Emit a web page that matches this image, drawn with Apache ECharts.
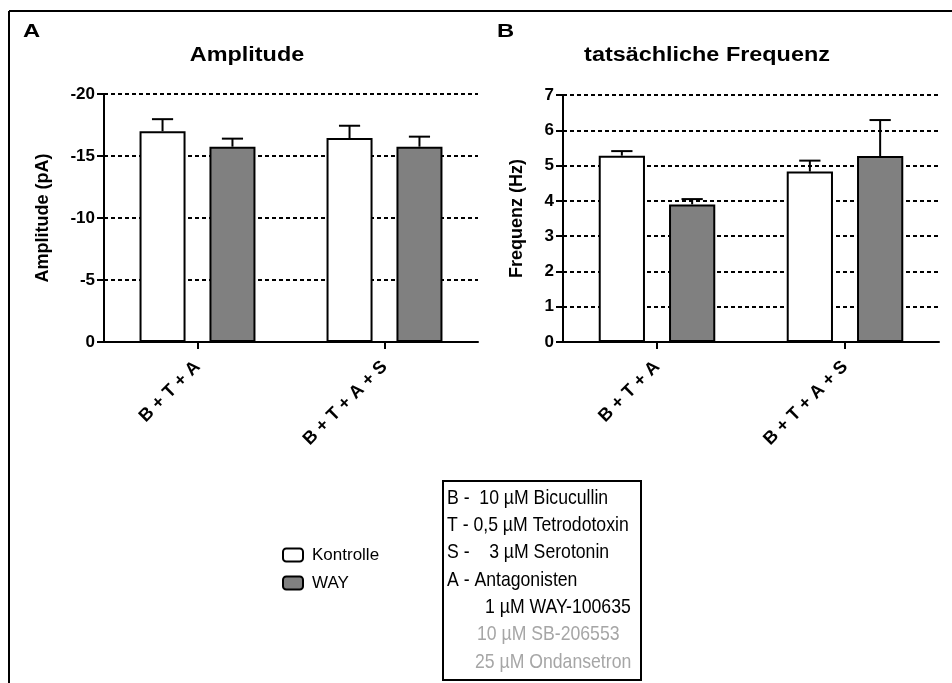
<!DOCTYPE html>
<html>
<head>
<meta charset="utf-8">
<script src="https://cdn.jsdelivr.net/npm/echarts@6/dist/echarts.min.js"></script>
<style>
html,body{margin:0;padding:0;background:#fff;}
#chart{width:952px;height:683px;}
</style>
</head>
<body>
<div id="chart"></div>
<script>
// ---- data ----
const categories = ['B + T + A', 'B + T + A + S'];
const seriesNames = ['Kontrolle', 'WAY'];

const ampKontrolle = [-17.0, -16.45];
const ampKontrolleSem = [0.97, 0.99];
const ampWay = [-15.75, -15.75];
const ampWaySem = [0.65, 0.81];

const freqKontrolle = [5.28, 4.83];
const freqKontrolleSem = [0.13, 0.31];
const freqWay = [3.9, 5.27];
const freqWaySem = [0.15, 1.02];

const ampAxis = { min: -20, max: 0, interval: 5 };
const freqAxis = { min: 0, max: 7, interval: 1 };

const panelTitles = ['Amplitude', 'tatsächliche Frequenz'];
const panelLetters = ['A', 'B'];
const axisNames = ['Amplitude (pA)', 'Frequenz (Hz)'];

const boxLines = [
  'B -  10 µM Bicucullin',
  'T - 0,5 µM Tetrodotoxin',
  'S -    3 µM Serotonin',
  'A - Antagonisten',
  '1 µM WAY-100635',
  '10 µM SB-206553',
  '25 µM Ondansetron'
];

// ---- styling / layout ----
const FONT = '"Liberation Sans", Arial, sans-serif';
const BAR_FRAC = 0.246;
const GAP_FRAC = 0.52;
const colors = ['#ffffff', '#808080'];

const chart = echarts.init(document.getElementById('chart'), null, { renderer: 'canvas' });

function errItems(means, sems, si) {
  return means.map((m, i) => [i, m, sems[i], si]);
}

function renderErr(params, api) {
  const ci = api.value(0), mean = api.value(1), sem = api.value(2), si = api.value(3);
  const band = api.size([1, 0])[0];
  const barW = band * BAR_FRAC;
  const gap = barW * GAP_FRAC;
  const off = (si === 0 ? -1 : 1) * (barW + gap) / 2;
  const top = api.coord([ci, mean]);
  const cap = api.coord([ci, mean + Math.sign(mean) * sem]);
  const x = top[0] + off;
  const half = barW * 0.23;
  return {
    type: 'group',
    children: [
      { type: 'line', shape: { x1: x, y1: top[1], x2: x, y2: cap[1] }, style: { stroke: '#000', lineWidth: 2 } },
      { type: 'line', shape: { x1: x - half, y1: cap[1], x2: x + half, y2: cap[1] }, style: { stroke: '#000', lineWidth: 2 } }
    ]
  };
}

function xAxisCfg(gi) {
  return {
    type: 'category', gridIndex: gi, data: categories, boundaryGap: true,
    axisLine: { show: true, lineStyle: { color: '#000', width: 2 } },
    axisTick: { show: true, alignWithLabel: true, length: 7, lineStyle: { color: '#000', width: 2 } },
    axisLabel: { rotate: 45, color: '#000', fontWeight: 'bold', fontSize: 18, fontFamily: FONT, margin: 22 },
    splitLine: { show: false }
  };
}

function yAxisCfg(gi, ax, name, gapN, inverse) {
  return {
    type: 'value', gridIndex: gi, min: ax.min, max: ax.max, interval: ax.interval, inverse: inverse,
    name: name, nameLocation: 'middle', nameGap: gapN,
    nameTextStyle: { color: '#000', fontWeight: 'bold', fontSize: 18, fontFamily: FONT },
    axisLine: { show: true, lineStyle: { color: '#000', width: 2 } },
    axisTick: { show: true, length: 7, lineStyle: { color: '#000', width: 2 } },
    axisLabel: { color: '#000', fontWeight: 'bold', fontSize: 17, fontFamily: FONT, margin: 9 },
    splitLine: { show: true, lineStyle: { color: '#000', width: 2, type: [4, 3] } }
  };
}

function barSeries(name, data, gi, ci) {
  return {
    type: 'bar', name: name, xAxisIndex: gi, yAxisIndex: gi, data: data,
    barWidth: (BAR_FRAC * 100) + '%', barGap: (GAP_FRAC * 100) + '%',
    itemStyle: { color: colors[ci], borderColor: '#000', borderWidth: 2 },
    emphasis: { disabled: true }, z: 2
  };
}

function errSeries(means, sems, si, gi) {
  return {
    type: 'custom', xAxisIndex: gi, yAxisIndex: gi, renderItem: renderErr,
    data: errItems(means, sems, si), z: 3, silent: true
  };
}

const graphics = [
  { type: 'line', shape: { x1: 9, y1: 11, x2: 952, y2: 11 }, style: { stroke: '#000', lineWidth: 2 } },
  { type: 'line', shape: { x1: 9, y1: 11, x2: 9, y2: 683 }, style: { stroke: '#000', lineWidth: 2 } },
  { type: 'text', x: 23, y: 32, scaleX: 1.25, style: { text: panelLetters[0], fontSize: 19, fontWeight: 'bold', fontFamily: FONT, fill: '#000', align: 'left', verticalAlign: 'middle' } },
  { type: 'text', x: 497, y: 32, scaleX: 1.25, style: { text: panelLetters[1], fontSize: 19, fontWeight: 'bold', fontFamily: FONT, fill: '#000', align: 'left', verticalAlign: 'middle' } },
  { type: 'text', x: 247, y: 56, scaleX: 1.2, style: { text: panelTitles[0], fontSize: 19.5, fontWeight: 'bold', fontFamily: FONT, fill: '#000', align: 'center', verticalAlign: 'middle' } },
  { type: 'text', x: 707, y: 56, scaleX: 1.2, style: { text: panelTitles[1], fontSize: 19.5, fontWeight: 'bold', fontFamily: FONT, fill: '#000', align: 'center', verticalAlign: 'middle' } },
  { type: 'rect', shape: { x: 443, y: 481, width: 198, height: 199 }, style: { fill: '#fff', stroke: '#000', lineWidth: 2 } }
];

const boxX = [447, 447, 447, 447, 485, 477, 475];
const boxColor = ['#000', '#000', '#000', '#000', '#000', '#a6a6a6', '#a6a6a6'];
boxLines.forEach((t, i) => {
  graphics.push({
    type: 'text', x: boxX[i], y: 498 + i * 27.3, scaleX: 0.84,
    style: { text: t, fontSize: 21, fontFamily: FONT, fill: boxColor[i], align: 'left', verticalAlign: 'middle' }
  });
});

const option = {
  backgroundColor: '#fff',
  animation: false,
  grid: [
    { left: 104, top: 94, width: 374, height: 248, containLabel: false },
    { left: 563, top: 95, width: 376, height: 247, containLabel: false }
  ],
  legend: {
    data: seriesNames, orient: 'vertical', left: 282, top: 545,
    itemWidth: 20, itemHeight: 13, itemGap: 8, padding: 0,
    icon: 'roundRect',
    textStyle: { color: '#000', fontSize: 17, fontFamily: FONT, lineHeight: 20, padding: [0, 0, 0, 4] }
  },
  xAxis: [xAxisCfg(0), xAxisCfg(1)],
  yAxis: [
    yAxisCfg(0, ampAxis, axisNames[0], 52, true),
    yAxisCfg(1, freqAxis, axisNames[1], 37, false)
  ],
  series: [
    barSeries(seriesNames[0], ampKontrolle, 0, 0),
    barSeries(seriesNames[1], ampWay, 0, 1),
    barSeries(seriesNames[0], freqKontrolle, 1, 0),
    barSeries(seriesNames[1], freqWay, 1, 1),
    errSeries(ampKontrolle, ampKontrolleSem, 0, 0),
    errSeries(ampWay, ampWaySem, 1, 0),
    errSeries(freqKontrolle, freqKontrolleSem, 0, 1),
    errSeries(freqWay, freqWaySem, 1, 1)
  ],
  graphic: graphics
};

chart.setOption(option);
</script>
</body>
</html>
